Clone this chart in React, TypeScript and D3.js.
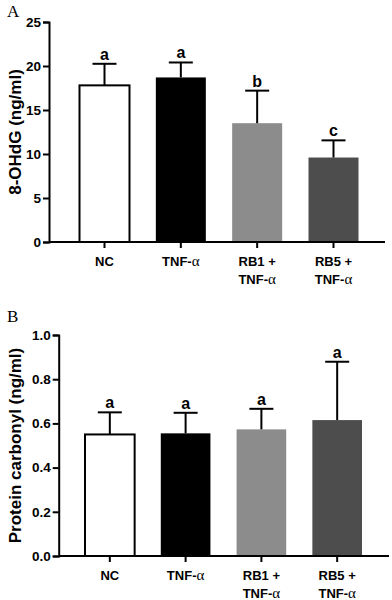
import React, { useEffect, useRef } from "react";
import * as d3 from "d3";

const groups = ["NC", "TNF", "RB1", "RB5"];
const labelLine1 = ["NC", "TNF-", "RB1 +", "RB5 +"];
const labelLine2 = ["", "", "TNF-", "TNF-"];
const barColors = ["#ffffff", "#000000", "#8c8c8c", "#4d4d4d"];

// panel A: 8-OHdG
const ohdgMean = [17.8, 18.7, 13.5, 9.6];
const ohdgErr = [2.45, 1.7, 3.7, 1.95];
const ohdgLetters = ["a", "a", "b", "c"];
const ohdgTicks = [0, 5, 10, 15, 20, 25];

// panel B: protein carbonyl
const pcMean = [0.55, 0.555, 0.573, 0.615];
const pcErr = [0.1, 0.093, 0.093, 0.264];
const pcLetters = ["a", "a", "a", "a"];
const pcTicks = [0, 0.2, 0.4, 0.6, 0.8, 1.0];

const sans = "'Liberation Sans', Arial, sans-serif";
const serif = "'Liberation Serif', 'Times New Roman', serif";

function drawPanel(svg, o) {
  const g = svg.append("g");
  const y = d3.scaleLinear().domain([0, o.max]).range([o.y0, o.y1]);
  const x = d3.scaleBand().domain(groups).range(o.band).paddingInner(0.345).paddingOuter(0);

  const yAxis = g.append("g")
    .attr("transform", `translate(${o.axisX},0)`)
    .call(d3.axisLeft(y).tickValues(o.ticks).tickSize(6).tickPadding(2).tickFormat(o.fmt));
  yAxis.select(".domain").attr("stroke", "#000").attr("stroke-width", 2);
  yAxis.selectAll(".tick line").attr("stroke", "#000").attr("stroke-width", 2);
  yAxis.selectAll("text").attr("font-family", sans).attr("font-weight", "bold").attr("font-size", 13.5).attr("fill", "#000");

  // bars
  g.selectAll("rect.bar").data(groups).join("rect").attr("class", "bar")
    .attr("x", d => x(d))
    .attr("width", x.bandwidth())
    .attr("y", (d, i) => y(o.mean[i]))
    .attr("height", (d, i) => y(0) - y(o.mean[i]))
    .attr("fill", (d, i) => barColors[i])
    .attr("stroke", (d, i) => (i === 0 ? "#000" : "none"))
    .attr("stroke-width", 2);

  // error bars (upper only)
  const cap = 12;
  groups.forEach((d, i) => {
    const cx = x(d) + x.bandwidth() / 2;
    const top = y(o.mean[i] + o.err[i]);
    g.append("line").attr("x1", cx).attr("x2", cx).attr("y1", y(o.mean[i])).attr("y2", top)
      .attr("stroke", "#000").attr("stroke-width", 2);
    g.append("line").attr("x1", cx - cap).attr("x2", cx + cap).attr("y1", top).attr("y2", top)
      .attr("stroke", "#000").attr("stroke-width", 2);
    g.append("text").attr("x", cx).attr("y", top - 4).attr("text-anchor", "middle")
      .attr("font-family", sans).attr("font-weight", "bold").attr("font-size", 16)
      .text(o.letters[i]);
  });

  // x axis
  g.append("line").attr("x1", o.axisX).attr("x2", o.xEnd).attr("y1", y(0)).attr("y2", y(0))
    .attr("stroke", "#000").attr("stroke-width", 2);
  groups.forEach((d, i) => {
    const cx = x(d) + x.bandwidth() / 2;
    g.append("line").attr("x1", cx).attr("x2", cx).attr("y1", y(0)).attr("y2", y(0) + 6)
      .attr("stroke", "#000").attr("stroke-width", 2);
    const lines = [labelLine1[i], labelLine2[i]].filter(s => s !== "");
    lines.forEach((s, k) => {
      const t = g.append("text").attr("x", cx).attr("y", y(0) + 24 + k * 18).attr("text-anchor", "middle")
        .attr("font-family", sans).attr("font-weight", "bold").attr("font-size", 13).attr("fill", "#000");
      t.append("tspan").text(s);
      if (s.endsWith("-")) {
        t.append("tspan").attr("font-family", serif).attr("font-weight", "normal").attr("font-size", 15).text("α");
      }
    });
  });

  // y title
  g.append("text")
    .attr("transform", `translate(${o.titleX},${(o.y0 + o.y1) / 2}) rotate(-90)`)
    .attr("text-anchor", "middle")
    .attr("font-family", sans).attr("font-weight", "bold").attr("font-size", 17)
    .text(o.title);

  // panel letter
  g.append("text").attr("x", 7).attr("y", o.letterY)
    .attr("font-family", serif).attr("font-size", 17).text(o.letter);
}

export default function App() {
  const ref = useRef(null);
  useEffect(() => {
    const svg = d3.select(ref.current);
    svg.selectAll("*").remove();
    drawPanel(svg, {
      max: 25, y0: 242, y1: 22, axisX: 49, xEnd: 385, band: [79.5, 358.5],
      mean: ohdgMean, err: ohdgErr, letters: ohdgLetters, ticks: ohdgTicks,
      fmt: d3.format("d"), title: "8-OHdG  (ng/ml)", titleX: 21, letter: "A", letterY: 17,
    });
    drawPanel(svg, {
      max: 1, y0: 556, y1: 335, axisX: 58.7, xEnd: 389, band: [85, 362],
      mean: pcMean, err: pcErr, letters: pcLetters, ticks: pcTicks,
      fmt: d3.format(".1f"), title: "Protein carbonyl (ng/ml)", titleX: 21, letter: "B", letterY: 322,
    });
  }, []);
  return (
    <svg ref={ref} width={392} height={600}
      style={{ position: "absolute", left: 0, top: 0, background: "#fff" }} />
  );
}
